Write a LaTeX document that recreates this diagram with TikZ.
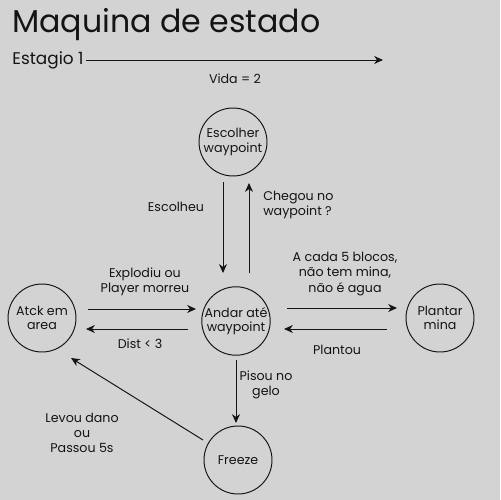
\documentclass[tikz,border=0pt]{standalone}
\usepackage{fontspec}
\setmainfont{Poppins}
\usetikzlibrary{arrows.meta}
\definecolor{bg}{RGB}{211,211,211}
\definecolor{ink}{RGB}{20,20,20}
\begin{document}
\begin{tikzpicture}[x=0.02cm,y=-0.02cm,
  state/.style={circle,draw=ink,line width=0.55pt,minimum size=1.36cm,inner sep=0pt,align=center,font=\fontsize{7.2}{8.2}\selectfont,text=ink},
  lbl/.style={align=center,font=\fontsize{7.2}{8.6}\selectfont,text=ink,inner sep=0pt},
  conn/.style={draw=ink,line width=0.55pt,-{Stealth[length=5pt,width=4.5pt,inset=1.5pt]}}]
\fill[bg] (0,0) rectangle (500,500);
\useasboundingbox (0,0) rectangle (500,500);
\node[anchor=base west,inner sep=0pt,font=\fontsize{18}{20}\selectfont,text=ink] (title) at (12,33) {Maquina de estado};
\node[anchor=base west,inner sep=0pt,font=\fontsize{9.6}{11}\selectfont,text=ink] (stage) at (12,65) {Estagio 1};
\coordinate (stagestart) at (86,60);
\coordinate (stageend) at (383,60);
\draw[conn] (stagestart) -- (stageend);
\node[lbl] (vida) at (235,79) {Vida = 2};

\node[state] (esc) at (233,142) {Escolher\\waypoint};
\node[state] (andar) at (236,321) {Andar até\\waypoint};
\node[state] (atck) at (42,318) {Atck em\\area};
\node[state] (plant) at (440,318) {Plantar\\mina};
\node[state] (freeze) at (238,460) {Freeze};

\coordinate (a1) at (223,182); \coordinate (b1) at (223,273);
\coordinate (a2) at (249,273); \coordinate (b2) at (249,183);
\coordinate (a3) at (88,309);  \coordinate (b3) at (196,309);
\coordinate (a4) at (188,329); \coordinate (b4) at (86,329);
\coordinate (a5) at (287,308); \coordinate (b5) at (397,308);
\coordinate (a6) at (387,329); \coordinate (b6) at (284,329);
\coordinate (a7) at (236,360); \coordinate (b7) at (236,423);
\coordinate (a8) at (203,440); \coordinate (b8) at (71,358);
\foreach \i in {1,...,8} {\draw[conn] (a\i) -- (b\i);}

\node[lbl] (l1) at (176,207) {Escolheu};
\node[lbl,align=left,anchor=west] (l2) at (263,205) {Chegou no\\waypoint ?};
\node[lbl] (l3) at (145,282) {Explodiu ou\\Player morreu};
\node[lbl] (l4) at (140,344) {Dist < 3};
\node[lbl] (l5) at (345,274) {A cada 5 blocos,\\não tem mina,\\não é agua};
\node[lbl] (l6) at (337,350) {Plantou};
\node[lbl] (l7) at (266,385) {Pisou no\\gelo};
\node[lbl] (l8) at (82,433) {Levou dano\\ou\\Passou 5s};
\end{tikzpicture}
\end{document}
